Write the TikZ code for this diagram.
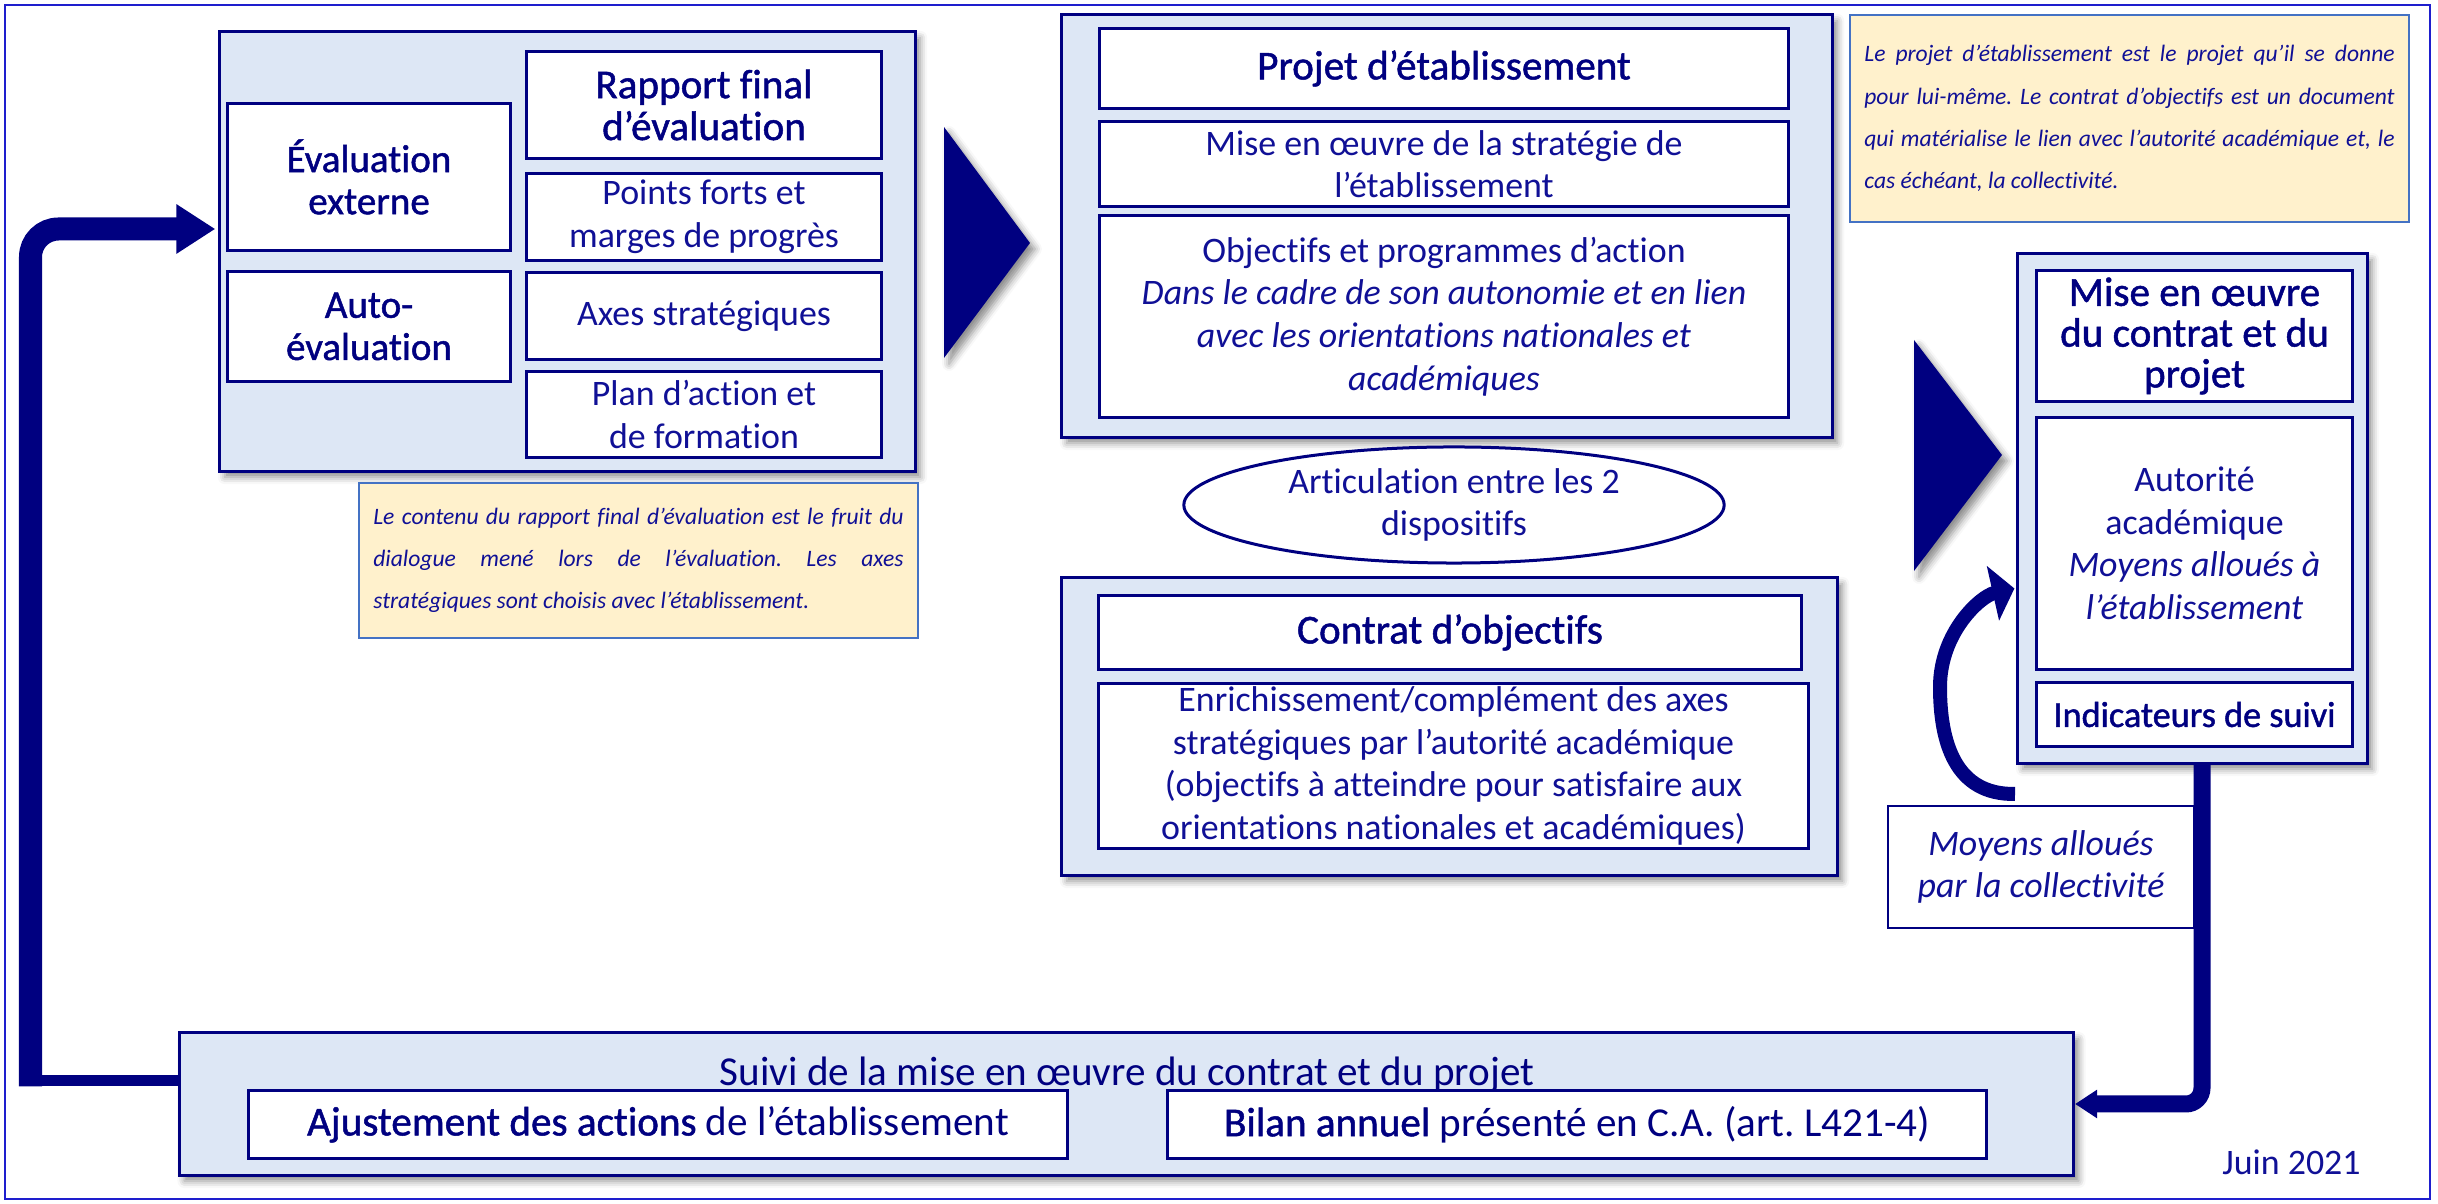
\documentclass[tikz,border=0pt]{standalone}
\usepackage{fontspec}
\setmainfont{Carlito}[Ligatures=NoCommon]
\newfontfamily\semi{Carlito}[FakeBold=1.2, Ligatures=NoCommon]
\usetikzlibrary{calc,shapes.geometric,shadows.blur,arrows.meta}
\frenchspacing

\definecolor{fonce}{RGB}{0,0,128}
\definecolor{encre}{RGB}{16,16,150}
\definecolor{fond}{RGB}{221,231,245}
\definecolor{jaune}{RGB}{255,241,204}
\definecolor{bordnote}{RGB}{68,114,196}
\definecolor{bordure}{RGB}{30,30,205}

\newcommand\titre{\fontsize{11.7}{11.9}\semi}
\newcommand\corps{\fontsize{10.2}{12.1}\selectfont}
\newcommand\remarque{\fontsize{6.7}{12}\selectfont\itshape\hyphenpenalty=10000}

\tikzset{
  ombre/.style={blur shadow={shadow xshift=.05cm, shadow yshift=-.06cm, shadow blur radius=.07cm, shadow opacity=45}},
  groupe/.style={draw=fonce, line width=.03cm, fill=fond, ombre},
  boite/.style={draw=fonce, line width=.03cm, fill=white, inner sep=0pt, align=center, text=encre, font=\corps},
  entete/.style={boite, text=fonce, font=\titre},
  encart/.style={draw=bordnote, line width=.02cm, fill=jaune, text=encre, font=\remarque,
    inner xsep=.13cm, text width=5.3cm, align=justify},
  pointe/.style={fill=fonce, ombre},
  fleche/.style={draw=fonce, line cap=butt},
}

\begin{document}
\begin{tikzpicture}[x=.01cm, y=-.01cm]
  \useasboundingbox (0,0) rectangle (2438,1204);
  \draw[bordure, line width=.025cm] (5,5) rectangle (2430,1199);

  % evaluation
  \node[groupe, minimum width=6.95cm, minimum height=4.39cm] (evaluation) at (567.5,251.5) {};
  \node[entete, font=\fontsize{11.1}{12}\semi, minimum width=2.82cm, minimum height=1.46cm] (externe) at (369,177) {Évaluation\\externe};
  \node[entete, font=\fontsize{11.1}{12}\semi, minimum width=2.82cm, minimum height=1.09cm] (auto) at (369,326.5) {Auto-\\évaluation};
  \node[entete, minimum width=3.54cm, minimum height=1.06cm] (rapport) at (704,105) {Rapport final\\d’évaluation};
  \node[boite, minimum width=3.54cm, minimum height=.86cm] (points) at (704,217) {Points forts et\\marges de progrès};
  \node[boite, minimum width=3.54cm, minimum height=.86cm] (axes) at (704,316) {Axes stratégiques};
  \node[boite, minimum width=3.54cm, minimum height=.85cm] (plan) at (704,414.5) {Plan d’action et\\de formation};

  \node[encart, minimum width=5.59cm, minimum height=1.55cm] (notebas) at (638.5,560.5)
    {Le contenu du rapport final d’évaluation est le fruit du\linebreak dialogue mené lors de l’évaluation. Les axes\linebreak stratégiques sont choisis avec l’établissement.};

  \fill[pointe] (944,127) -- (1030,243) -- (944,358) -- cycle;

  % projet
  \node[groupe, minimum width=7.70cm, minimum height=4.22cm] (projetgrp) at (1447,226) {};
  \node[entete, minimum width=6.88cm, minimum height=.79cm] (projet) at (1444,68.5) {Projet d’établissement};
  \node[boite, minimum width=6.88cm, minimum height=.84cm] (strategie) at (1444,164) {Mise en œuvre de la stratégie de\\l’établissement};
  \node[boite, minimum width=6.88cm, minimum height=2.01cm] (objectifs) at (1444,316.5)
    {Objectifs et programmes d’action\\\textit{Dans le cadre de son autonomie et en lien}\\\textit{avec les orientations nationales et}\\\textit{académiques}};

  \node[encart, minimum width=5.59cm, minimum height=2.07cm] (notehaut) at (2129.5,118.5)
    {Le projet d’établissement est le projet qu’il se donne\linebreak pour lui-même. Le contrat d’objectifs est un document\linebreak qui matérialise le lien avec l’autorité académique et, le\linebreak cas échéant, la collectivité.};

  \node[ellipse, draw=fonce, line width=.03cm, fill=white, minimum width=5.4cm, minimum height=1.16cm] (articulation) at (1454,505) {};
  \node[text=encre, font=\corps, align=center] (articulationtxt) at (articulation) {Articulation entre les 2\\dispositifs};

  % contrat
  \node[groupe, minimum width=7.75cm, minimum height=2.97cm] (contratgrp) at (1449.5,726.5) {};
  \node[entete, minimum width=7.02cm, minimum height=.73cm] (contrat) at (1450,632.5) {Contrat d’objectifs};
  \node[boite, minimum width=7.09cm, minimum height=1.64cm] (enrich) at (1453.5,766)
    {Enrichissement/complément des axes\\stratégiques par l’autorité académique\\(objectifs à atteindre pour satisfaire aux\\orientations nationales et académiques)};

  \fill[pointe] (1914,340) -- (2002,455) -- (1914,571) -- cycle;

  % mise en oeuvre
  \node[groupe, minimum width=3.49cm, minimum height=5.09cm] (misegrp) at (2192.5,508.5) {};
  \node[entete, font=\fontsize{11.7}{11.6}\semi, minimum width=3.15cm, minimum height=1.30cm] (miseprojet) at (2194.5,336) {Mise en œuvre\\du contrat et du\\projet};
  \node[boite, minimum width=3.15cm, minimum height=2.51cm] (autorite) at (2194.5,543.5)
    {Autorité\\académique\\\textit{Moyens alloués à}\\\textit{l’établissement}};
  \node[entete, font=\fontsize{10.3}{12}\semi, minimum width=3.15cm, minimum height=.63cm] (indic) at (2194.5,714.5) {Indicateurs de suivi};

  \node[boite, line width=.02cm, font=\corps\itshape, minimum width=3.06cm, minimum height=1.22cm] (moyens) at (2041,867)
    {Moyens alloués\\par la collectivité};

  % suivi
  \node[groupe, minimum width=18.93cm, minimum height=1.42cm] (suivi) at (1126.5,1104) {};
  \node[text=fonce, font=\fontsize{11.7}{11.9}\selectfont, anchor=base] (titresuivi) at (1127,1086)
    {Suivi de la mise en œuvre du contrat et du projet};
  \node[boite, font=\fontsize{11.7}{11.9}\selectfont, text=fonce, minimum width=8.18cm, minimum height=.67cm] (ajust) at (658,1124.5)
    {{\semi Ajustement des actions} de l’établissement};
  \node[boite, font=\fontsize{11.7}{11.9}\selectfont, text=fonce, minimum width=8.18cm, minimum height=.67cm] (bilan) at (1577,1124.5)
    {{\semi Bilan annuel} présenté en C.A. (art. L421-4)};

  \node[text=encre, font=\corps, anchor=base east] (date) at (2373,1175) {Juin 2021};

  % boucles
  \coordinate (coin) at (30.5,1080.5);
  \draw[fleche, line width=.11cm] (suivi.west |- coin) -- ($(coin)+(-11.5,0)$);
  \draw[fleche, line width=.23cm, rounded corners=.28cm, -{Triangle[length=.39cm,width=.47cm]}]
    ($(coin)+(0,6)$) |- ($(evaluation.west)+(-3,-22.5)$);
  \draw[fleche, line width=.17cm, rounded corners=.16cm, -{Triangle[length=.22cm,width=.27cm]}]
    ($(misegrp.south)+(9.5,0)$) |- (suivi.east);
  \draw[fleche, line width=.14cm, -{Triangle[length=.22cm,width=.55cm]}]
    ($(moyens.north)+(-26,-11)$) .. controls (1955,795) and (1940,742) .. (1940,687)
    .. controls (1940,632) and (1981,596) .. ($(misegrp.west)+(-2,80)$);
\end{tikzpicture}
\end{document}
